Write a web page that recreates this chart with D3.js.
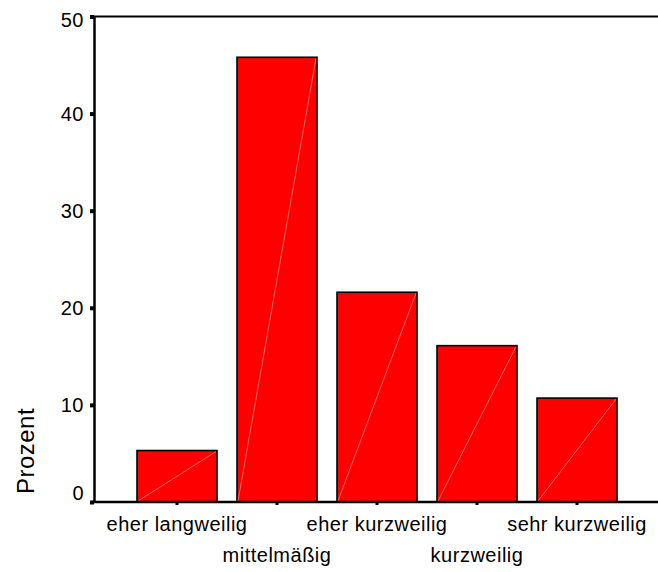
<!DOCTYPE html>
<html><head><meta charset="utf-8">
<script src="https://cdn.jsdelivr.net/npm/d3@7"></script>
<style>
html,body{margin:0;padding:0;background:#fff;}
text{font-family:"Liberation Sans",Arial,Helvetica,sans-serif;fill:#000;}
</style></head>
<body><svg id="chart" width="658" height="572"></svg>
<script>
const categories = ["eher langweilig","mittelmäßig","eher kurzweilig","kurzweilig","sehr kurzweilig"];
const values = [5.3, 45.8, 21.6, 16.1, 10.7];
const yTicks = [0,10,20,30,40,50];
const yLabel = "Prozent";

(function(){
const svg = d3.select("#chart");
const pL = 94, pR = 658, pT = 16.5, pB = 502;

const x = d3.scaleBand().domain(categories).range([127, 627]).paddingInner(0.2).paddingOuter(0.1);
const y = d3.scaleLinear().domain([0,50]).range([pB, pT]);

// bars
const g = svg.append("g");
g.selectAll("rect.bar").data(categories).join("rect")
  .attr("class","bar")
  .attr("x", d => x(d)).attr("width", x.bandwidth())
  .attr("y", (d,i) => y(values[i])).attr("height", (d,i) => y(0) - y(values[i]))
  .attr("fill","#ff0000").attr("stroke","#000").attr("stroke-width",1.6);
g.selectAll("line.diag").data(categories).join("line")
  .attr("class","diag")
  .attr("x1", d => x(d)+1).attr("y1", y(0)-1)
  .attr("x2", d => x(d)+x.bandwidth()-1).attr("y2", (d,i) => y(values[i])+1)
  .attr("stroke","#ff9a9a").attr("stroke-width",0.7);

// top frame
svg.append("line").attr("x1",pL).attr("x2",pR).attr("y1",pT).attr("y2",pT)
  .attr("stroke","#000").attr("stroke-width",2);

// y axis
const yAxis = d3.axisLeft(y).tickValues(yTicks).tickSize(0).tickPadding(10);
const ya = svg.append("g").attr("transform",`translate(${pL},0)`).call(yAxis);
ya.select(".domain").attr("stroke","#000").attr("stroke-width",2.5);
ya.selectAll("text").attr("font-size",20).attr("font-family","Liberation Sans, Arial, sans-serif")
  .attr("letter-spacing","0.5px")
  .attr("dy", d => d===0 ? "-0.12em" : (d===50 ? "0.5em" : "0.32em"));
ya.selectAll(".tick").append("rect").attr("x",-4).attr("y",-2).attr("width",4).attr("height",4).attr("fill","#000");

// x axis
const xAxis = d3.axisBottom(x).tickSize(0).tickPadding(0);
const xa = svg.append("g").attr("transform",`translate(0,${pB})`).call(xAxis);
xa.select(".domain").remove();
svg.append("line").attr("x1",pL-2).attr("x2",pR).attr("y1",pB).attr("y2",pB)
  .attr("stroke","#000").attr("stroke-width",2.5);
xa.selectAll(".tick").append("rect").attr("x",-1.5).attr("y",0).attr("width",3).attr("height",3).attr("fill","#000");
xa.selectAll("text").attr("font-size",20).attr("font-family","Liberation Sans, Arial, sans-serif")
  .attr("letter-spacing","0.5px")
  .attr("dy",null)
  .attr("y", (d,i) => i%2===0 ? 29 : 60);

// y label
svg.append("text").attr("transform","translate(34,451) rotate(-90)")
  .attr("text-anchor","middle").attr("font-size",24).attr("letter-spacing","0.5px").text(yLabel);
})();
</script></body></html>
